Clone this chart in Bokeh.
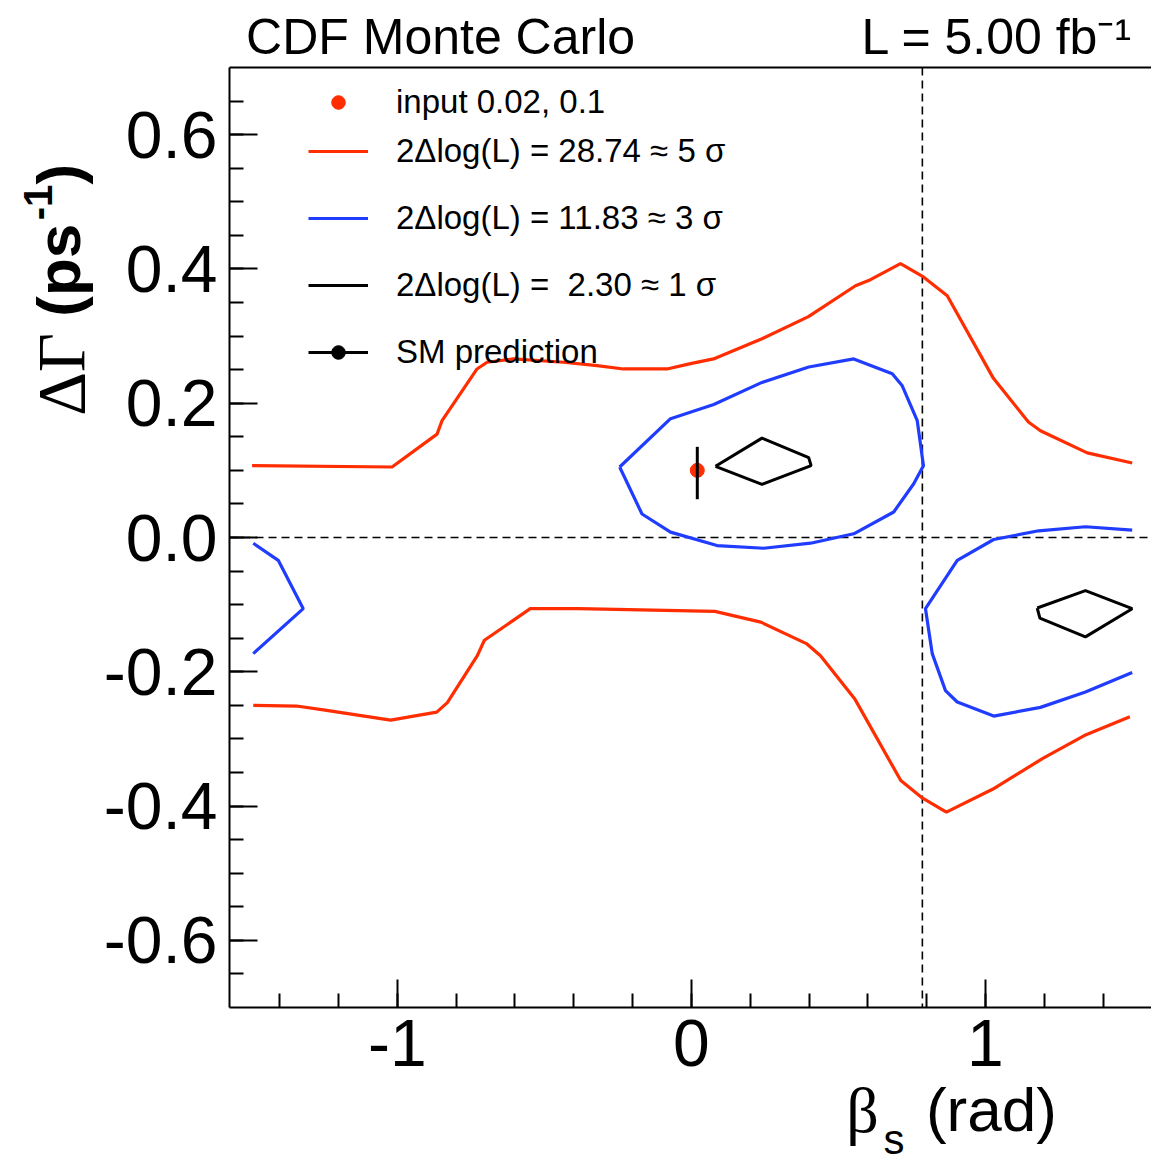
import numpy as np
from bokeh.plotting import figure
from bokeh.models import (Range1d, FixedTicker, PrintfTickFormatter, LinearAxis,
                          Span, Legend, LegendItem)
from bokeh.embed import file_html
from bokeh.resources import INLINE

# ---------------- data ----------------
# 5 sigma contour (red), upper branch
red_up_x = [-1.494, -1.018, -0.865, -0.848, -0.729, -0.695, -0.605, -0.435, -0.321, -0.231,
            -0.083, -0.003, 0.075, 0.240, 0.398, 0.558, 0.609, 0.711, 0.789, 0.870,
            1.027, 1.146, 1.187, 1.346, 1.499]
red_up_y = [0.107, 0.105, 0.154, 0.174, 0.251, 0.261, 0.266, 0.261, 0.256, 0.251,
            0.251, 0.259, 0.266, 0.296, 0.329, 0.375, 0.384, 0.408, 0.388, 0.360,
            0.237, 0.172, 0.159, 0.126, 0.111]
# 5 sigma contour (red), lower branch
red_lo_x = [-1.490, -1.343, -1.246, -1.023, -0.866, -0.830, -0.728, -0.704, -0.548, -0.384,
            0.080, 0.236, 0.391, 0.439, 0.555, 0.712, 0.782, 0.867, 1.024, 1.195,
            1.336, 1.491]
red_lo_y = [-0.250, -0.251, -0.257, -0.272, -0.260, -0.246, -0.176, -0.153, -0.106, -0.106,
            -0.110, -0.126, -0.158, -0.176, -0.240, -0.362, -0.387, -0.409, -0.375, -0.329,
            -0.295, -0.267]
# 3 sigma contour (blue), closed central loop
blue_c_x = [-0.244, -0.071, 0.076, 0.240, 0.399, 0.552, 0.683, 0.717, 0.768, 0.789,
            0.756, 0.688, 0.552, 0.405, 0.246, 0.087, -0.071, -0.168, -0.244]
blue_c_y = [0.105, 0.177, 0.198, 0.231, 0.254, 0.266, 0.244, 0.226, 0.174, 0.107,
            0.080, 0.038, 0.0055, -0.0085, -0.016, -0.012, 0.008, 0.035, 0.105]
# 3 sigma contour (blue), right open piece
blue_r_x = [1.499, 1.340, 1.181, 1.028, 0.904, 0.796, 0.819, 0.864, 0.904, 1.028,
            1.187, 1.340, 1.499]
blue_r_y = [0.011, 0.016, 0.010, -0.003, -0.034, -0.106, -0.173, -0.228, -0.245, -0.266,
            -0.253, -0.230, -0.201]
# 3 sigma contour (blue), left open piece
blue_l_x = [-1.490, -1.405, -1.320, -1.490]
blue_l_y = [-0.0085, -0.034, -0.106, -0.173]
# 1 sigma contours (black)
blk_c_x = [0.082, 0.240, 0.399, 0.407, 0.240, 0.082]
blk_c_y = [0.106, 0.148, 0.119, 0.107, 0.079, 0.106]
blk_r_x = [1.176, 1.340, 1.499, 1.340, 1.185, 1.176]
blk_r_y = [-0.105, -0.079, -0.106, -0.148, -0.120, -0.105]
# input point and SM prediction
input_x = [0.02]
input_y = [0.1]
sm_x = [0.02]
sm_y = [0.096]
sm_err = [0.039]

x_ticks = [-1, 0, 1]
y_ticks = [-0.6, -0.4, -0.2, 0.0, 0.2, 0.4, 0.6]
x_minor = [-1.4, -1.2, -1.0, -0.8, -0.6, -0.4, -0.2, 0.0, 0.2, 0.4, 0.6, 0.8, 1.0, 1.2, 1.4]
y_minor = [round(-0.65 + 0.05 * i, 2) for i in range(27)]
x_lo, x_hi = -np.pi / 2, 1.5646
y_lo, y_hi = -0.7, 0.7
v_line = np.pi / 4
h_line = 0.0

# texts placed as axis labels (anchor = data coordinate of the text centre)
top_texts = {-0.853: "CDF Monte Carlo", 1.04: "L = 5.00 fb\u207b\u00b9"}
xtitle_rad = {1.02: "(rad)"}
xtitle_sub = {0.689: "s"}
xtitle_beta = {0.582: "\u03b2"}
ytitle_ps = {0.398: "(ps", 0.541: ")"}
ytitle_sup = {0.499: "-1"}
ytitle_delta = {0.243: "\u0394\u0393"}

RED = "#ff2d00"
BLUE = "#1f3cff"
SANS = "Liberation Sans"
SERIF = "Liberation Serif"

# ---------------- figure ----------------
FL, FT, FW, FH = 229, 67, 922, 940   # frame left/top/width/height on page

p = figure(frame_width=FW, frame_height=FH,
           x_range=Range1d(x_lo, x_hi), y_range=Range1d(y_lo, y_hi),
           output_backend="svg", toolbar_location=None,
           min_border_left=FL, min_border_top=FT,
           min_border_right=0, min_border_bottom=155)
p.outline_line_color = None
p.xgrid.visible = False
p.ygrid.visible = False
p.background_fill_color = "white"
p.border_fill_color = "white"

xa = p.xaxis[0]
xa.ticker = FixedTicker(ticks=x_ticks, minor_ticks=x_minor)
xa.formatter = PrintfTickFormatter(format="%d")
ya = p.yaxis[0]
ya.ticker = FixedTicker(ticks=y_ticks, minor_ticks=y_minor)
ya.formatter = PrintfTickFormatter(format="%.1f")
for ax in (xa, ya):
    ax.major_label_text_font = SANS
    ax.major_label_text_font_size = "66px"
    ax.major_label_text_color = "black"
    ax.axis_line_width = 2
    ax.axis_line_color = "black"
    ax.major_tick_in = 28
    ax.major_tick_out = 0
    ax.minor_tick_in = 14
    ax.minor_tick_out = 0
    ax.major_tick_line_width = 2
    ax.minor_tick_line_width = 2
    ax.major_tick_line_color = "black"
    ax.minor_tick_line_color = "black"
xa.major_label_standoff = 12
ya.major_label_standoff = 12


def text_axis(labels, size, standoff, font=SANS, style="normal", orientation="horizontal",
              line_color=None, line_width=2):
    ticks = list(labels.keys())
    return LinearAxis(ticker=FixedTicker(ticks=ticks, minor_ticks=[]),
                      major_label_overrides=labels,
                      major_label_text_font=font, major_label_text_font_size=size,
                      major_label_text_font_style=style, major_label_text_color="black",
                      major_label_standoff=standoff, major_label_orientation=orientation,
                      major_tick_line_color=None, minor_tick_line_color=None,
                      major_tick_in=0, major_tick_out=0, minor_tick_in=0, minor_tick_out=0,
                      axis_line_color=line_color, axis_line_width=line_width)

# top frame line + header texts
p.add_layout(text_axis(top_texts, "50px", 3, line_color="black"), "above")
# x-axis title pieces
p.add_layout(text_axis(xtitle_rad, "62px", 6), "below")
p.add_layout(text_axis(xtitle_sub, "42px", -31), "below")
p.add_layout(text_axis(xtitle_beta, "64px", -91, font=SERIF), "below")
# y-axis title pieces
p.add_layout(text_axis(ytitle_ps, "62px", 7, style="bold", orientation="vertical"), "left")
p.add_layout(text_axis(ytitle_sup, "40px", -31, style="bold", orientation="vertical"), "left")
p.add_layout(text_axis(ytitle_delta, "68px", -78, font=SERIF, orientation="vertical"), "left")

# dashed reference lines
p.add_layout(Span(location=h_line, dimension="width", line_color="black",
                  line_dash="8 5", line_width=1.6, level="underlay"))
p.add_layout(Span(location=v_line, dimension="height", line_color="black",
                  line_dash="8 5", line_width=1.6, level="underlay"))

# contours
lw = 3.2
r_red1 = p.line(red_up_x, red_up_y, line_color=RED, line_width=lw)
r_red2 = p.line(red_lo_x, red_lo_y, line_color=RED, line_width=lw)
r_blue1 = p.line(blue_c_x, blue_c_y, line_color=BLUE, line_width=lw)
r_blue2 = p.line(blue_r_x, blue_r_y, line_color=BLUE, line_width=lw)
r_blue3 = p.line(blue_l_x, blue_l_y, line_color=BLUE, line_width=lw)
r_blk1 = p.line(blk_c_x, blk_c_y, line_color="black", line_width=3)
r_blk2 = p.line(blk_r_x, blk_r_y, line_color="black", line_width=3)

# points
r_smdot = p.scatter(sm_x, sm_y, size=8, color="black")
r_input = p.scatter(input_x, input_y, size=14, color=RED, line_color=RED)
sm_lo = [y - e for y, e in zip(sm_y, sm_err)]
sm_hi = [y + e for y, e in zip(sm_y, sm_err)]
r_smbar = p.segment(x0=sm_x, y0=sm_lo, x1=sm_x, y1=sm_hi, line_color="black", line_width=3)


# legends
def fx(px):
    return int(round(px - FL))


def fy(py):
    return int(round(FT + FH - py))


def make_legend(items, loc, gh, lh):
    return Legend(items=items, location=loc, glyph_width=60, glyph_height=gh,
                  label_height=lh, label_standoff=28, spacing=0, padding=0, margin=0,
                  border_line_color=None, background_fill_alpha=0,
                  label_text_font=SANS, label_text_font_size="33px",
                  label_text_color="black")


legA = make_legend([LegendItem(label="input 0.02, 0.1", renderers=[r_input])],
                   (fx(308), fy(121)), 34, 39)
legB = make_legend([
    LegendItem(label="2\u0394log(L) = 28.74 \u2248 5 \u03c3", renderers=[r_red1]),
    LegendItem(label="2\u0394log(L) = 11.83 \u2248 3 \u03c3", renderers=[r_blue1]),
    LegendItem(label="2\u0394log(L) =  2.30 \u2248 1 \u03c3", renderers=[r_blk1]),
    LegendItem(label="SM prediction", renderers=[r_smbar, r_smdot]),
], (fx(308), fy(385)), 34, 67)
for lg in (legA, legB):
    p.add_layout(lg)

open("out.html", "w").write(file_html(p, INLINE))
